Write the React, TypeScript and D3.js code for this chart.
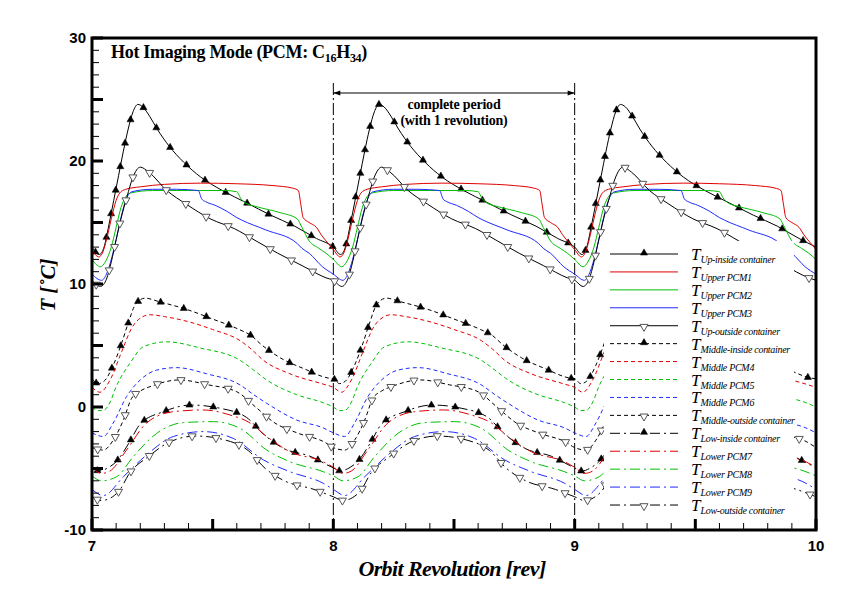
import React, { useEffect, useRef } from 'react';
import * as d3 from 'd3';

const W = 854;
const H = 604;

// orbit revolutions shown (each revolution repeats the same periodic cycle)
const revolutions = [7, 8, 9];
const xLabels = [7, 8, 9, 10];
const yLabels = [-10, 0, 10, 20, 30];
const periodMarks = [8, 9];

// [phase within revolution, temperature °C]
const upInside: [number, number][] = [
  [0, 13.0], [0.03, 12.4], [0.05, 13.0], [0.07, 14.8], [0.09, 16.8], [0.11, 18.8], [0.13, 20.8],
  [0.15, 22.6], [0.17, 24.0], [0.19, 24.6], [0.21, 24.4], [0.24, 23.6], [0.27, 22.6], [0.32, 21.2],
  [0.38, 19.9], [0.45, 18.7], [0.54, 17.6], [0.64, 16.6], [0.74, 15.6], [0.84, 14.7], [0.93, 13.7], [1.0, 13.0],
];
const upperPCM1: [number, number][] = [
  [0, 12.8], [0.028, 12.2], [0.045, 12.6], [0.06, 13.6], [0.08, 15.3], [0.1, 16.8], [0.115, 17.4],
  [0.14, 17.7], [0.2, 17.9], [0.3, 18.1], [0.45, 18.2], [0.6, 18.15], [0.75, 18.0], [0.83, 17.8],
  [0.855, 17.6], [0.865, 16.5], [0.875, 15.4], [0.9, 15.0], [0.93, 14.6], [0.95, 14.0], [0.97, 13.5], [1.0, 12.8],
];
const upperPCM2: [number, number][] = [
  [0, 12.0], [0.035, 11.4], [0.055, 11.8], [0.08, 13.0], [0.1, 14.6], [0.12, 16.2], [0.14, 17.1],
  [0.16, 17.4], [0.25, 17.6], [0.4, 17.6], [0.55, 17.6], [0.6, 17.5], [0.615, 17.0], [0.635, 16.6],
  [0.68, 16.3], [0.78, 15.8], [0.85, 15.3], [0.87, 14.6], [0.9, 13.5], [0.94, 12.9], [0.97, 12.5], [1.0, 12.0],
];
const upperPCM3: [number, number][] = [
  [0, 10.8], [0.04, 10.3], [0.06, 10.8], [0.08, 12.0], [0.1, 13.6], [0.12, 15.4], [0.14, 16.8],
  [0.165, 17.5], [0.25, 17.7], [0.35, 17.7], [0.44, 17.6], [0.455, 16.9], [0.47, 16.7], [0.51, 16.4],
  [0.56, 15.9], [0.6, 15.4], [0.62, 15.2], [0.72, 14.4], [0.85, 13.3], [0.87, 12.9], [0.9, 12.5],
  [0.955, 11.4], [1.0, 10.8],
];
const upOutside: [number, number][] = [
  [0, 10.3], [0.035, 9.8], [0.06, 10.4], [0.08, 11.8], [0.1, 13.6], [0.12, 15.3], [0.145, 17.1],
  [0.17, 18.7], [0.2, 19.5], [0.235, 19.1], [0.31, 17.6], [0.39, 16.5], [0.49, 15.3], [0.59, 14.5],
  [0.68, 13.5], [0.77, 12.5], [0.87, 11.5], [0.97, 10.5], [1.0, 10.3],
];
const middleInside: [number, number][] = [
  [0, 2.3], [0.025, 1.9], [0.05, 2.1], [0.088, 3.4], [0.123, 5.2], [0.148, 6.7], [0.182, 8.4],
  [0.22, 8.85], [0.28, 8.55], [0.39, 7.95], [0.5, 7.15], [0.61, 6.3], [0.66, 5.8], [0.7, 5.1],
  [0.78, 4.0], [0.88, 3.1], [0.98, 2.35], [1.0, 2.3],
];
const middlePCM4: [number, number][] = [
  [0, 1.6], [0.033, 1.2], [0.075, 2.2], [0.123, 4.5], [0.164, 6.4], [0.206, 7.3], [0.24, 7.5],
  [0.3, 7.35], [0.406, 6.9], [0.5, 6.3], [0.613, 5.4], [0.66, 4.7], [0.71, 3.8], [0.82, 2.7],
  [0.96, 1.85], [1.0, 1.6],
];
const middlePCM5: [number, number][] = [
  [0, 0.0], [0.025, -0.3], [0.05, -0.25], [0.075, 0.4], [0.1, 1.65], [0.157, 3.55], [0.213, 4.9],
  [0.31, 5.3], [0.448, 4.8], [0.613, 3.8], [0.67, 3.0], [0.724, 2.2], [0.848, 1.0], [0.958, 0.35], [1.0, 0.0],
];
const middlePCM6: [number, number][] = [
  [0, -2.1], [0.047, -2.4], [0.088, -1.3], [0.143, 0.84], [0.2, 2.2], [0.268, 3.0], [0.351, 3.2],
  [0.475, 2.7], [0.613, 1.8], [0.67, 1.0], [0.724, 0.3], [0.848, -1.06], [0.958, -1.7], [1.0, -2.1],
];
const middleOutside: [number, number][] = [
  [0, -3.3], [0.047, -3.5], [0.088, -2.7], [0.13, -1.06], [0.164, 0.7], [0.2, 1.3], [0.247, 1.7],
  [0.362, 2.2], [0.482, 1.8], [0.6, 1.24], [0.676, 0.03], [0.758, -1.3], [0.855, -2.14], [0.965, -2.87], [1.0, -3.3],
];
const lowInside: [number, number][] = [
  [0, -4.95], [0.03, -5.2], [0.07, -4.9], [0.1, -4.45], [0.155, -2.87], [0.2, -1.38], [0.296, -0.38],
  [0.41, 0.16], [0.53, -0.1], [0.64, -0.84], [0.71, -2.2], [0.793, -3.36], [0.903, -4.0], [1.0, -4.95],
];
const lowerPCM7: [number, number][] = [
  [0, -4.9], [0.04, -5.4], [0.075, -5.2], [0.143, -3.5], [0.226, -1.3], [0.337, -0.38], [0.46, -0.24],
  [0.572, -0.65], [0.655, -1.3], [0.724, -2.4], [0.82, -3.63], [0.958, -4.45], [1.0, -4.9],
];
const lowerPCM8: [number, number][] = [
  [0, -5.6], [0.04, -6.0], [0.102, -5.67], [0.171, -4.04], [0.268, -2.14], [0.378, -1.27], [0.503, -1.19],
  [0.613, -1.73], [0.724, -3.5], [0.82, -4.45], [0.958, -5.26], [1.0, -5.6],
];
const lowerPCM9: [number, number][] = [
  [0, -6.7], [0.047, -7.2], [0.13, -5.67], [0.226, -3.9], [0.337, -2.4], [0.46, -2.0], [0.585, -2.55],
  [0.71, -4.3], [0.82, -5.26], [0.958, -6.2], [1.0, -6.7],
];
const lowOutside: [number, number][] = [
  [0, -7.3], [0.04, -7.6], [0.109, -6.9], [0.157, -5.34], [0.233, -4.04], [0.316, -2.9], [0.431, -2.36],
  [0.551, -2.68], [0.648, -3.55], [0.717, -4.98], [0.797, -6.0], [0.92, -6.7], [1.0, -7.3],
];

const seriesNames = [
  'Up-inside container', 'Upper PCM1', 'Upper PCM2', 'Upper PCM3', 'Up-outside container',
  'Middle-inside container', 'Middle PCM4', 'Middle PCM5', 'Middle PCM6', 'Middle-outside container',
  'Low-inside container', 'Lower PCM7', 'Lower PCM8', 'Lower PCM9', 'Low-outside container',
];
const seriesData = [
  upInside, upperPCM1, upperPCM2, upperPCM3, upOutside,
  middleInside, middlePCM4, middlePCM5, middlePCM6, middleOutside,
  lowInside, lowerPCM7, lowerPCM8, lowerPCM9, lowOutside,
];

const RED = '#e00000';
const GREEN = '#00c000';
const BLUE = '#1f2bff';
const BLACK = '#000000';
const colors = [BLACK, RED, GREEN, BLUE, BLACK];
const markers: ('up' | 'down' | null)[] = ['up', null, null, null, 'down'];
const dashes = ['', '4,3', '10,4,2,4'];

const M = { left: 92, right: 816, top: 38, bottom: 530 };

export default function App() {
  const ref = useRef<SVGSVGElement | null>(null);

  useEffect(() => {
    const svg = d3.select(ref.current);
    svg.selectAll('*').remove();

    const x = d3.scaleLinear().domain([7, 10]).range([M.left, M.right]);
    const y = d3.scaleLinear().domain([-10, 30]).range([M.bottom, M.top]);

    const defs = svg.append('defs');
    defs.append('clipPath').attr('id', 'plotclip')
      .append('rect').attr('x', M.left).attr('y', M.top)
      .attr('width', M.right - M.left).attr('height', M.bottom - M.top);

    svg.append('rect').attr('width', W).attr('height', H).attr('fill', '#fff');

    const plot = svg.append('g').attr('clip-path', 'url(#plotclip)');

    // period marker lines
    periodMarks.forEach((v) => {
      plot.append('line')
        .attr('x1', x(v)).attr('x2', x(v)).attr('y1', 83).attr('y2', M.bottom)
        .attr('stroke', '#000').attr('stroke-width', 1)
        .attr('stroke-dasharray', '12,3,2,3');
    });

    const line = d3.line<[number, number]>()
      .x((d) => x(d[0])).y((d) => y(d[1]))
      .curve(d3.curveMonotoneX);

    const triUp = d3.symbol().type(d3.symbolTriangle).size(22);
    const triDown = d3.symbol().type(d3.symbolTriangle).size(28);

    const drawMarker = (g: any, type: 'up' | 'down', px: number, py: number) => {
      if (type === 'up') {
        g.append('path').attr('d', triUp()).attr('transform', `translate(${px},${py})`)
          .attr('fill', '#000').attr('stroke', '#000').attr('stroke-width', 0.5);
      } else {
        g.append('path').attr('d', triDown()).attr('transform', `translate(${px},${py}) rotate(180)`)
          .attr('fill', '#fff').attr('stroke', '#555').attr('stroke-width', 1);
      }
    };

    seriesData.forEach((pts, i) => {
      const group = Math.floor(i / 5);
      const k = i % 5;
      const full: [number, number][] = [];
      revolutions.forEach((r, ri) => {
        pts.forEach(([p, t]) => {
          if (p < 1 || ri === revolutions.length - 1) full.push([r + p, t]);
        });
      });
      const path = plot.append('path')
        .attr('d', line(full) as string)
        .attr('fill', 'none')
        .attr('stroke', colors[k])
        .attr('stroke-width', 1)
        .attr('stroke-dasharray', dashes[group] || null);
      const mk = markers[k];
      if (mk) {
        const node = path.node() as SVGPathElement;
        const L = node.getTotalLength();
        const spacing = 24;
        for (let s = 6; s < L; s += spacing) {
          const pt = node.getPointAtLength(s);
          drawMarker(plot, mk, pt.x, pt.y);
        }
      }
    });

    // legend (white box hides curves beneath)
    const lg = svg.append('g');
    lg.append('rect').attr('x', 604).attr('y', 241).attr('width', 190).attr('height', 277).attr('fill', '#fff');
    seriesNames.forEach((name, i) => {
      const group = Math.floor(i / 5);
      const k = i % 5;
      const ly = 254 + i * 17.93;
      lg.append('line').attr('x1', 610).attr('x2', 678).attr('y1', ly).attr('y2', ly)
        .attr('stroke', colors[k]).attr('stroke-width', 1)
        .attr('stroke-dasharray', dashes[group] || null);
      const mk = markers[k];
      if (mk) drawMarker(lg, mk, 644, ly + (mk === 'up' ? -1 : 1));
      const t = lg.append('text').attr('x', 691).attr('y', ly + 6)
        .attr('font-family', '"Liberation Serif", serif').attr('font-style', 'italic')
        .attr('font-size', 17).attr('fill', '#000');
      t.append('tspan').text('T');
      t.append('tspan').attr('dy', 3).attr('font-size', 10).attr('letter-spacing', -0.3).text(name);
    });

    // frame + ticks
    const ax = svg.append('g');
    for (let v = -10; v <= 30; v += 1) {
      const major = v % 5 === 0;
      ax.append('line').attr('x1', M.left).attr('x2', M.left + (major ? 11 : 7))
        .attr('y1', y(v)).attr('y2', y(v))
        .attr('stroke', '#000').attr('stroke-width', major ? 3 : 1);
    }
    for (let i = 0; i <= 30; i += 1) {
      const v = 7 + i / 10;
      const major = i % 5 === 0;
      ax.append('line').attr('x1', x(v)).attr('x2', x(v))
        .attr('y1', M.bottom).attr('y2', M.bottom - (major ? 11 : 7))
        .attr('stroke', '#000').attr('stroke-width', major ? 3 : 1);
    }
    ax.append('rect').attr('x', M.left).attr('y', M.top)
      .attr('width', M.right - M.left).attr('height', M.bottom - M.top)
      .attr('fill', 'none').attr('stroke', '#000').attr('stroke-width', 3);

    yLabels.forEach((v) => {
      ax.append('text').attr('x', 86).attr('y', y(v) + 5).attr('text-anchor', 'end')
        .attr('font-family', '"Liberation Sans", Arial, sans-serif').attr('font-weight', 'bold')
        .attr('font-size', 15).text(String(v));
    });
    xLabels.forEach((v) => {
      ax.append('text').attr('x', x(v)).attr('y', 551).attr('text-anchor', 'middle')
        .attr('font-family', '"Liberation Sans", Arial, sans-serif').attr('font-weight', 'bold')
        .attr('font-size', 15).text(String(v));
    });

    // axis titles
    ax.append('text').attr('x', 452).attr('y', 576).attr('text-anchor', 'middle')
      .attr('font-family', '"Liberation Serif", serif').attr('font-style', 'italic').attr('font-weight', 'bold')
      .attr('font-size', 22).attr('letter-spacing', -0.6).text('Orbit Revolution [rev]');
    ax.append('text').attr('transform', 'translate(55,285) rotate(-90)').attr('text-anchor', 'middle')
      .attr('font-family', '"Liberation Serif", serif').attr('font-style', 'italic').attr('font-weight', 'bold')
      .attr('font-size', 21).text('T [˚C]');

    // title
    const tt = ax.append('text').attr('x', 111).attr('y', 58)
      .attr('font-family', '"Liberation Serif", serif').attr('font-weight', 'bold')
      .attr('font-size', 18).attr('letter-spacing', -0.3);
    tt.append('tspan').text('Hot Imaging Mode (PCM: C');
    tt.append('tspan').attr('dy', 4).attr('font-size', 12).text('16');
    tt.append('tspan').attr('dy', -4).text('H');
    tt.append('tspan').attr('dy', 4).attr('font-size', 12).text('34');
    tt.append('tspan').attr('dy', -4).text(')');

    // complete period annotation
    defs.append('marker').attr('id', 'ah').attr('viewBox', '0 0 10 10')
      .attr('refX', 10).attr('refY', 5).attr('markerWidth', 13).attr('markerHeight', 7)
      .attr('markerUnits', 'userSpaceOnUse').attr('orient', 'auto-start-reverse')
      .append('path').attr('d', 'M0,1.5 L10,5 L0,8.5 Z').attr('fill', '#000');
    ax.append('line').attr('x1', x(periodMarks[0])).attr('x2', x(periodMarks[1]))
      .attr('y1', 93).attr('y2', 93).attr('stroke', '#000').attr('stroke-width', 1.2)
      .attr('marker-start', 'url(#ah)').attr('marker-end', 'url(#ah)');
    const cx = (x(periodMarks[0]) + x(periodMarks[1])) / 2;
    ['complete period', '(with 1 revolution)'].forEach((s, i) => {
      ax.append('text').attr('x', cx).attr('y', 109 + i * 16).attr('text-anchor', 'middle')
        .attr('font-family', '"Liberation Serif", serif').attr('font-weight', 'bold')
        .attr('font-size', 14).attr('letter-spacing', -0.2).text(s);
    });
  }, []);

  return (
    <svg ref={ref} width={W} height={H}
      style={{ position: 'absolute', left: 0, top: 0, background: '#fff' }} />
  );
}
